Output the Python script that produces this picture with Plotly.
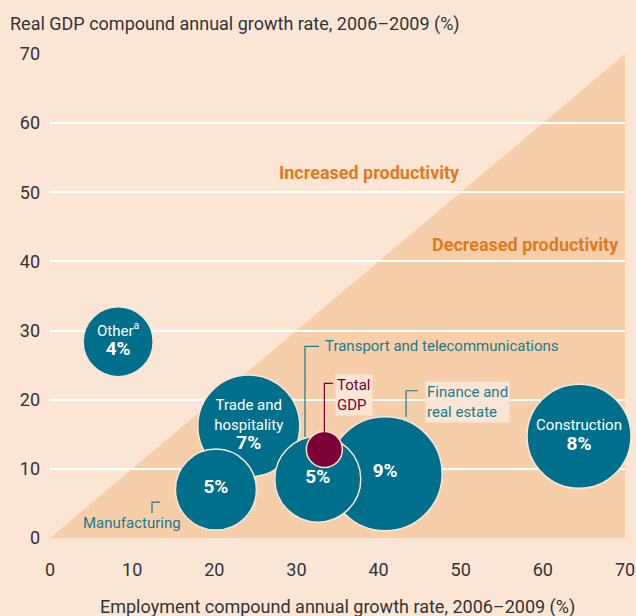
import plotly.graph_objects as go

# Sector bubbles: employment growth (x) vs real GDP growth (y), 2006-2009
sectors = ["Other", "Construction", "Trade and hospitality", "Finance and real estate",
           "Manufacturing", "Transport and telecommunications", "Total GDP"]
employment_cagr = [8.3, 64.4, 24.2, 40.8, 20.2, 32.6, 33.4]
gdp_cagr = [28.4, 14.7, 16.2, 9.3, 7.0, 8.5, 12.8]
gdp_share = ["4%", "8%", "7%", "9%", "5%", "5%", ""]
bubble_text = ["Other<sup>a</sup>", "Construction", "Trade and<br>hospitality", "", "", "", ""]

# marker diameters (px)
bubble_px = [70, 104, 102, 114, 81, 86, 36]

x_ticks = [0, 10, 20, 30, 40, 50, 60, 70]
y_ticks = [0, 10, 20, 30, 40, 50, 60, 70]

BG = "#FBE6D5"
TRI = "#F6CFAA"
TEAL = "#006F8B"
TEAL_TXT = "#1C7A8E"
MAROON = "#7A0035"
ORANGE = "#E07A1F"
FONT = "Roboto, 'Open Sans', sans-serif"

colors = [MAROON if s == "Total GDP" else TEAL for s in sectors]
labels = []
for name, pct in zip(bubble_text, gdp_share):
    big = "<span style='font-size:19px'><b>%s</b></span>" % pct if pct else ""
    if name and big:
        labels.append(name + "<br>" + big)
    else:
        labels.append(name or big)

fig = go.Figure()

fig.add_trace(go.Scatter(x=employment_cagr,
                         y=gdp_cagr,
                         mode="markers+text",
                         text=labels,
                         textposition="middle center",
                         textfont=dict(family=FONT, size=15, color="white"),
                         marker=dict(size=bubble_px, color=colors, opacity=1,
                                     line=dict(color=BG, width=1.5)),
                         hovertext=sectors,
                         hoverinfo="text",
                         cliponaxis=False,
                         showlegend=False))

# shaded "decreased productivity" triangle under the 45 degree line
xmax = x_ticks[-1]
fig.add_shape(type="path", path="M 0 0 L %d %d L %d 0 Z" % (xmax, xmax, xmax),
              fillcolor=TRI, line_width=0, layer="below")

# leader lines for the sector names outside the bubbles
leaders = [
    ([31.04, 31.04, 32.75], [14.6, 27.7, 27.7], TEAL_TXT),
    ([33.4, 33.4, 34.45], [15.2, 22.35, 22.35], MAROON),
    ([43.35, 43.35, 44.8], [17.5, 21.3, 21.3], TEAL_TXT),
    ([12.42, 12.42, 13.4], [3.6, 5.2, 5.2], TEAL_TXT),
]
for lx, ly, c in leaders:
    fig.add_trace(go.Scatter(x=lx, y=ly, mode="lines", line=dict(color=c, width=1.2),
                             hoverinfo="skip", showlegend=False))

fig.add_annotation(x=33.2, y=27.7, text="Transport and telecommunications", showarrow=False,
                   xanchor="left", yanchor="middle",
                   font=dict(family=FONT, size=15, color=TEAL_TXT))
fig.add_annotation(x=34.7, y=23.7, text="Total<br>GDP", showarrow=False,
                   xanchor="left", yanchor="top", align="left", bgcolor=BG,
                   font=dict(family=FONT, size=15, color=MAROON))
fig.add_annotation(x=45.7, y=22.7, text="Finance and<br>real estate", showarrow=False,
                   xanchor="left", yanchor="top", align="left", bgcolor=BG,
                   font=dict(family=FONT, size=15, color=TEAL_TXT))
fig.add_annotation(x=9.95, y=2.2, text="Manufacturing", showarrow=False,
                   xanchor="center", yanchor="middle",
                   font=dict(family=FONT, size=15, color=TEAL_TXT))

fig.add_annotation(x=38.9, y=52.8, text="<b>Increased productivity</b>", showarrow=False,
                   font=dict(family=FONT, size=18, color=ORANGE))
fig.add_annotation(x=57.9, y=42.5, text="<b>Decreased productivity</b>", showarrow=False,
                   font=dict(family=FONT, size=18, color=ORANGE))

# axis titles
fig.add_annotation(xref="paper", yref="paper", x=-0.073, y=1.061,
                   text="Real GDP compound annual growth rate, 2006–2009 (%)",
                   showarrow=False, xanchor="left", yanchor="middle",
                   font=dict(family=FONT, size=18, color="#333333"))
fig.add_annotation(xref="paper", yref="paper", x=0.5, y=-0.143,
                   text="Employment compound annual growth rate, 2006–2009 (%)",
                   showarrow=False, xanchor="center", yanchor="middle",
                   font=dict(family=FONT, size=18, color="#333333"))

fig.update_xaxes(range=[0, 70], tickvals=x_ticks, showgrid=False, zeroline=False,
                 showline=False, ticks="", ticklabelstandoff=19,
                 tickfont=dict(family=FONT, size=18, color="#333333"))
fig.update_yaxes(range=[0, 70], tickvals=y_ticks, showgrid=True, gridcolor="white",
                 gridwidth=2, zeroline=False, showline=False, ticks="",
                 ticklabelstandoff=9,
                 tickfont=dict(family=FONT, size=18, color="#333333"))

fig.update_layout(width=636, height=616,
                  margin=dict(l=50, r=11, t=54, b=78, autoexpand=False),
                  paper_bgcolor=BG, plot_bgcolor=BG,
                  font=dict(family=FONT),
                  hovermode="closest")

# page has a default body margin; drop it so the figure fills the window
fig.write_html("out.html",
               config={"displayModeBar": False},
               post_script="document.body.style.margin='0';"
                           "document.body.style.background='%s';" % BG)
